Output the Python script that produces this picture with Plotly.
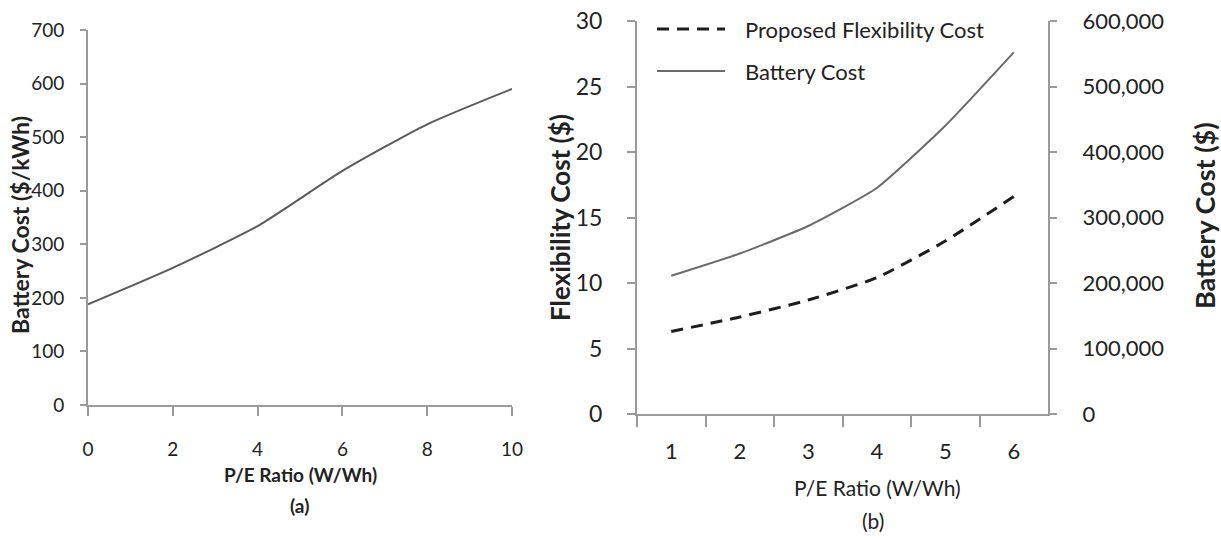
import plotly.graph_objects as go

# Panel (a): unit battery cost versus P/E ratio
pe_a = [0, 2, 4, 6, 8, 10]
battery_cost_per_kwh = [188, 256, 334, 437, 524, 590]
ticks_a_x = [0, 2, 4, 6, 8, 10]
ticks_a_y = [0, 100, 200, 300, 400, 500, 600, 700]

# Panel (b): flexibility cost and total battery cost versus P/E ratio
pe_b = ["1", "2", "3", "4", "5", "6"]
flex_cost = [6.3, 7.4, 8.7, 10.4, 13.2, 16.6]
battery_cost = [211000, 245000, 287000, 345000, 440000, 552000]
ticks_b_left = [0, 5, 10, 15, 20, 25, 30]
ticks_b_right = [0, 100000, 200000, 300000, 400000, 500000, 600000]

W, H = 1221, 538
FONT = "Lato, Open Sans, sans-serif"
AXIS = "#9a9a9a"
TXT = "#222222"


def px(x):
    return x / W


def py(y):
    return 1 - y / H


fig = go.Figure()

fig.add_trace(go.Scatter(
    x=pe_a, y=battery_cost_per_kwh, mode="lines",
    line=dict(color="#5a5a5a", width=2, shape="spline", smoothing=0.6),
    xaxis="x", yaxis="y", showlegend=False,
))
fig.add_trace(go.Scatter(
    x=pe_b, y=flex_cost, mode="lines", name="Proposed Flexibility Cost",
    line=dict(color="#1e1e1e", width=3, dash="12px,8px", shape="spline", smoothing=0.5),
    xaxis="x2", yaxis="y2", showlegend=False,
))
fig.add_trace(go.Scatter(
    x=pe_b, y=battery_cost, mode="lines", name="Battery Cost",
    line=dict(color="#6a6a6a", width=2, shape="spline", smoothing=0.5),
    xaxis="x2", yaxis="y3", showlegend=False,
))


def axis_style(ticklen):
    return dict(
        showgrid=False, zeroline=False, showline=True, linecolor=AXIS, linewidth=2,
        ticks="outside", tickcolor=AXIS, tickwidth=2, ticklen=ticklen,
        automargin=False,
    )


fig.update_layout(
    width=W, height=H,
    margin=dict(l=0, r=0, t=0, b=0, autoexpand=False),
    paper_bgcolor="white", plot_bgcolor="white",
    font=dict(family=FONT, color=TXT),
    xaxis=dict(
        domain=[px(88), px(512)], anchor="y", range=[0, 10],
        tickvals=ticks_a_x, tickfont=dict(size=19, color=TXT),
        ticklabelstandoff=17, **axis_style(9),
    ),
    yaxis=dict(
        domain=[py(405), py(30)], anchor="x", range=[0, 700],
        tickvals=ticks_a_y, tickfont=dict(size=19, color=TXT),
        ticklabelstandoff=12, **axis_style(6),
    ),
    xaxis2=dict(
        domain=[px(637), px(1048)], anchor="y2", type="category",
        categoryorder="array", categoryarray=pe_b, range=[-0.5, 5.5],
        tickson="boundaries", tickfont=dict(size=22, color=TXT),
        ticklabelstandoff=17, **axis_style(11),
    ),
    yaxis2=dict(
        domain=[py(414), py(21)], anchor="x2", range=[0, 30],
        tickvals=ticks_b_left, tickfont=dict(size=23, color=TXT),
        ticklabelstandoff=20, **axis_style(8),
    ),
    yaxis3=dict(
        overlaying="y2", anchor="x2", side="right", range=[0, 600000],
        tickvals=ticks_b_right, tickformat=",d", tickfont=dict(size=22, color=TXT),
        ticklabelstandoff=21, **axis_style(7),
    ),
)

# Legend for panel (b): line samples plus labels
fig.add_shape(type="line", xref="paper", yref="paper",
              x0=px(657), x1=px(725), y0=py(29), y1=py(29),
              line=dict(color="#1e1e1e", width=3, dash="12px,8px"))
fig.add_shape(type="line", xref="paper", yref="paper",
              x0=px(657), x1=px(725), y0=py(71), y1=py(71),
              line=dict(color="#6a6a6a", width=2))

annotations = [
    dict(text="Proposed Flexibility Cost", x=px(743), y=py(29), xanchor="left",
         font=dict(size=22)),
    dict(text="Battery Cost", x=px(743), y=py(71), xanchor="left",
         font=dict(size=22)),
    dict(text="<b>Battery Cost ($/kWh)</b>", x=px(20), y=py(225), textangle=-90,
         font=dict(size=23)),
    dict(text="<b>P/E Ratio (W/Wh)</b>", x=px(300), y=py(474), font=dict(size=19)),
    dict(text="<b>(a)</b>", x=px(299), y=py(505), font=dict(size=19)),
    dict(text="<b>Flexibility Cost ($)</b>", x=px(560), y=py(218), textangle=-90,
         font=dict(size=26)),
    dict(text="<b>Battery Cost ($)</b>", x=px(1205), y=py(216), textangle=-90,
         font=dict(size=27)),
    dict(text="P/E Ratio (W/Wh)", x=px(877), y=py(487), font=dict(size=21)),
    dict(text="(b)", x=px(873), y=py(520), font=dict(size=21)),
]
for a in annotations:
    fig.add_annotation(xref="paper", yref="paper", showarrow=False,
                       xanchor=a.pop("xanchor", "center"), yanchor="middle",
                       font=dict(family=FONT, color=TXT, **a.pop("font")), **a)

fig.write_html("out.html")
